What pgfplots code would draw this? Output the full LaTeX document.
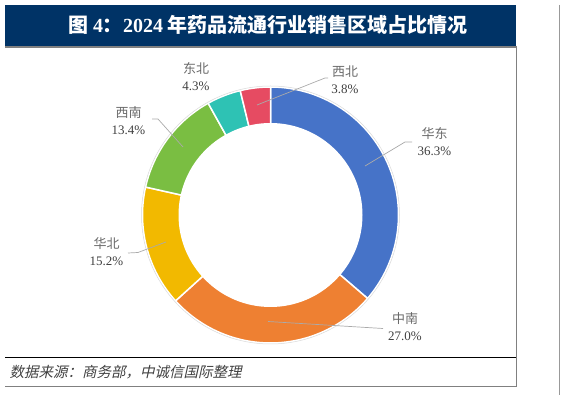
\documentclass[border=0pt]{standalone}
\usepackage{pgfplots}
\pgfplotsset{compat=1.18}
\usepackage{fontspec}
\setmainfont{Liberation Serif}
\newfontfamily\cjk{Noto Sans CJK SC}
\newfontfamily\cjkit[FakeSlant=0.22]{Noto Sans CJK SC}
\definecolor{navy}{RGB}{0,51,102}
\definecolor{cHD}{RGB}{70,115,200}
\definecolor{cZN}{RGB}{238,128,50}
\definecolor{cHB}{RGB}{242,185,0}
\definecolor{cXN}{RGB}{122,190,66}
\definecolor{cDB}{RGB}{46,194,180}
\definecolor{cXB}{RGB}{230,75,98}
\definecolor{lblcn}{RGB}{105,105,105}
\definecolor{lblnum}{RGB}{64,64,64}
\definecolor{lead}{RGB}{170,170,170}
\def\cx{270.5}
\def\cy{180}
\def\R{128}
\def\r{92}
% #1 cumulative share before the segment, #2 share, #3 colour
\newcommand\seg[3]{%
  \pgfmathsetmacro\angA{90-3.6*(#1+#2)}%
  \pgfmathsetmacro\angB{90-3.6*#1}%
  \edef\doseg{\noexpand\addplot[fill=#3, draw=white, line width=1.5pt, domain=\angA:\angB, samples=90, variable=\noexpand\t] ({\cx+\R*cos(\noexpand\t)},{\cy+\R*sin(\noexpand\t)}) -- (axis cs:\cx,\cy) -- cycle;}%
  \doseg}
\begin{document}
\begin{tikzpicture}
\begin{axis}[
  scale only axis, width=566pt, height=395pt,
  xmin=0, xmax=566, ymin=0, ymax=395,
  enlargelimits=false, hide axis, clip=false]
\path (axis cs:0,0) rectangle (axis cs:566,395);
% frame
\fill[navy] (axis cs:5,390) rectangle (axis cs:516,349);
\draw[gray, line width=1.5pt] (axis cs:5,348) -- (axis cs:517,348);
\draw[gray, line width=1.3pt] (axis cs:516.5,349) -- (axis cs:516.5,8.5);
\draw[black, line width=1pt] (axis cs:5,37) -- (axis cs:516,37);
\draw[gray, line width=1.5pt] (axis cs:5,8.5) -- (axis cs:517,8.5);
\draw[gray!80, line width=1.3pt] (axis cs:559.5,390) -- (axis cs:559.5,0);
% title
\node[text=white, anchor=center] at (axis cs:268,370) {\fontsize{20}{24}\selectfont\bfseries{\cjk 图}~4{\cjk ：}2024~{\cjk 年药品流通行业销售区域占比情况}};
% source
\node[text=lblnum, anchor=west] at (axis cs:6,23) {\fontsize{14.5}{17}\selectfont\cjkit 数据来源：商务部，中诚信国际整理};
% donut: 华东 36.3, 中南 27.0, 华北 15.2, 西南 13.4, 东北 4.3, 西北 3.8
\seg{0}{36.3}{cHD}
\seg{36.3}{27.0}{cZN}
\seg{63.3}{15.2}{cHB}
\seg{78.5}{13.4}{cXN}
\seg{91.9}{4.3}{cDB}
\seg{96.2}{3.8}{cXB}
\fill[white] (axis cs:\cx,\cy) circle[radius=\r];
\draw[gray!30, line width=0.5pt] (axis cs:\cx,\cy) circle[radius=129];
% leader lines
\draw[lead, line width=0.7pt] (axis cs:257,290) -- (axis cs:325,317) -- (axis cs:328,317);
\draw[lead, line width=0.7pt] (axis cs:152,276) -- (axis cs:158,276) -- (axis cs:183,248);
\draw[lead, line width=0.7pt] (axis cs:128,142) -- (axis cs:138,142.5) -- (axis cs:166,153);
\draw[lead, line width=0.7pt] (axis cs:412,253) -- (axis cs:405,253) -- (axis cs:365,229);
\draw[lead, line width=0.7pt] (axis cs:268,73.5) -- (axis cs:383,66.5);
% labels
\newcommand\lbl[4]{%
  \node[text=lblcn, anchor=center] at (axis cs:#1,#2) {\fontsize{13}{15}\selectfont\cjk #3};
  \node[text=lblnum, anchor=center] at (axis cs:#1,#2-17.5) {\fontsize{13}{15}\selectfont #4};}
\lbl{345}{323.5}{西北}{3.8\%}
\lbl{196}{326.5}{东北}{4.3\%}
\lbl{128.5}{282.5}{西南}{13.4\%}
\lbl{106.5}{151}{华北}{15.2\%}
\lbl{434.5}{261}{华东}{36.3\%}
\lbl{405}{76}{中南}{27.0\%}
\end{axis}
\end{tikzpicture}
\end{document}
